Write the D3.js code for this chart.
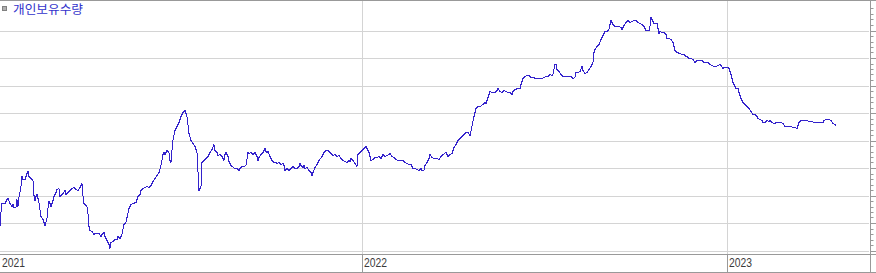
<!DOCTYPE html>
<html>
<head>
<meta charset="utf-8">
<script src="https://cdn.jsdelivr.net/npm/d3@7"></script>
<style>
  html, body { margin: 0; padding: 0; background: #fff; }
  svg { display: block; }
</style>
</head>
<body>
<svg id="chart" width="876" height="273"></svg>
<script>
// ---- DATA (개인보유수량, relative units; dates as MM-DD per year) ----
const seriesName = "개인보유수량";
const yearLabels = ["2021", "2022", "2023"];
const yearTickDates = ["2021-01-04", "2022-01-01", "2023-01-01"];
const gridValues = [0, 27.5, 55, 82.5, 110, 137.5, 165, 192.5, 220];

const holdings2021 = [
  ["01-04",24],["01-05",38],["01-06",47],["01-09",47],["01-11",51],["01-12",52],["01-14",47],["01-16",44],
  ["01-17",46],["01-18",43],["01-20",43],["01-21",51],["01-22",44],["01-23",53],["01-25",64],["01-26",74],
  ["01-27",71],["01-29",71],["01-31",77],["02-01",79],["02-02",74],["02-04",72],["02-06",70],["02-07",55],
  ["02-08",50],["02-09",54],["02-10",56],["02-12",48],["02-13",41],["02-14",34],["02-16",31],["02-17",28],
  ["02-18",25],["02-20",32],["02-21",42],["02-22",49],["02-23",47],["02-24",44],["02-26",50],["02-27",54],
  ["03-01",58],["03-02",61],["03-04",62],["03-05",54],["03-07",56],["03-08",57],["03-10",60],["03-11",56],
  ["03-13",58],["03-15",60],["03-17",62],["03-19",63],["03-21",61],["03-23",60],["03-25",63],["03-27",67],
  ["03-28",55],["03-29",47],["03-30",46],["04-01",44],["04-02",37],["04-03",24],["04-04",20],["04-06",19],
  ["04-08",16],["04-09",17],["04-13",17],["04-15",14],["04-16",16],["04-18",18],["04-19",14],["04-21",10],
  ["04-23",6],["04-24",2],["04-25",8],["04-27",9],["04-29",11],["05-01",11],["05-02",14],["05-04",12],
  ["05-06",16],["05-08",26],["05-10",28],["05-11",33],["05-13",42],["05-15",46],["05-17",47],["05-20",48],
  ["05-22",54],["05-24",56],["05-25",60],["05-27",62],["05-31",64],["06-02",63],["06-04",65],["06-06",69],
  ["06-08",72],["06-10",75],["06-12",78],["06-14",85],["06-16",96],["06-17",98],["06-18",96],["06-20",100],
  ["06-22",98],["06-23",90],["06-24",88],["06-25",100],["06-26",110],["06-28",120],["06-30",124],["07-02",128],
  ["07-04",134],["07-06",138],["07-08",140],["07-10",134],["07-12",117],["07-14",110],["07-16",107],["07-18",104],
  ["07-20",98],["07-21",79],["07-22",60],["07-23",62],["07-24",64],["07-25",88],["07-27",90],["07-29",92],
  ["07-31",94],["08-02",98],["08-04",101],["08-06",106],["08-07",100],["08-09",98],["08-10",95],["08-12",96],
  ["08-14",94],["08-16",90],["08-17",96],["08-18",98],["08-20",94],["08-21",89],["08-23",85],["08-24",84],
  ["08-27",82],["08-29",82],["08-31",80],["09-01",82],["09-03",84],["09-05",84],["09-07",85],["09-09",98],
  ["09-10",97],["09-12",98],["09-14",96],["09-16",98],["09-18",94],["09-19",90],["09-20",93],["09-22",96],
  ["09-24",98],["09-26",102],["09-27",99],["09-28",98],["09-29",99],["10-01",94],["10-03",90],["10-05",88],
  ["10-07",88],["10-08",87],["10-10",88],["10-12",86],["10-14",87],["10-15",85],["10-16",80],["10-18",82],
  ["10-20",80],["10-22",82],["10-24",84],["10-26",82],["10-28",82],["10-30",84],["10-31",87],["11-01",85],
  ["11-03",83],["11-04",85],["11-05",82],["11-07",83],["11-09",80],["11-11",78],["11-12",75],["11-13",78],
  ["11-15",83],["11-17",86],["11-19",90],["11-22",94],["11-24",98],["11-26",100],["11-28",100],["11-29",99],
  ["12-01",97],["12-03",95],["12-05",96],["12-07",94],["12-09",95],["12-11",92],["12-13",90],["12-15",89],
  ["12-17",88],["12-19",90],["12-20",89],["12-21",92],["12-23",90],["12-25",87],["12-27",84],["12-28",96],
  ["12-30",98]
];

const holdings2022 = [
  ["01-01",100],["01-03",102],["01-05",104],["01-07",100],["01-08",98],["01-10",90],["01-12",91],["01-14",93],
  ["01-16",93],["01-18",94],["01-20",92],["01-22",96],["01-24",94],["01-26",95],["01-28",96],["01-29",97],
  ["01-31",94],["02-02",93],["02-04",91],["02-06",90],["02-08",90],["02-11",90],["02-13",88],["02-15",87],
  ["02-17",86],["02-19",86],["02-21",82],["02-23",82],["02-25",81],["02-27",80],["03-01",82],["03-02",80],
  ["03-04",80],["03-05",85],["03-07",88],["03-09",92],["03-10",96],["03-12",93],["03-14",92],["03-17",92],
  ["03-19",91],["03-21",94],["03-23",96],["03-26",98],["03-28",94],["03-30",96],["04-01",97],["04-03",103],
  ["04-05",106],["04-07",110],["04-09",112],["04-11",114],["04-13",116],["04-15",118],["04-17",118],["04-19",115],
  ["04-21",124],["04-23",134],["04-25",142],["04-27",144],["04-29",144],["05-02",146],["05-04",148],["05-05",147],
  ["05-07",153],["05-09",159],["05-11",158],["05-14",158],["05-16",160],["05-17",162],["05-19",159],["05-21",158],
  ["05-23",160],["05-25",159],["05-27",158],["05-29",158],["05-31",156],["06-01",159],["06-03",161],["06-06",162],
  ["06-08",162],["06-09",166],["06-11",172],["06-13",174],["06-15",175],["06-17",175],["06-19",173],["06-21",173],
  ["06-24",172],["06-26",172],["06-28",172],["06-30",172],["07-02",173],["07-04",174],["07-06",174],["07-08",176],
  ["07-10",175],["07-11",176],["07-13",186],["07-14",186],["07-15",181],["07-17",179],["07-19",176],["07-21",174],
  ["07-24",174],["07-26",174],["07-29",174],["07-31",172],["08-02",173],["08-03",178],["08-05",178],["08-07",179],
  ["08-09",184],["08-10",180],["08-12",177],["08-14",178],["08-16",181],["08-18",184],["08-20",188],["08-21",198],
  ["08-22",201],["08-24",204],["08-26",206],["08-28",211],["08-30",215],["09-01",219],["09-03",219],["09-05",221],
  ["09-06",226],["09-07",230],["09-09",226],["09-11",224],["09-13",224],["09-15",224],["09-17",223],["09-18",221],
  ["09-20",225],["09-22",228],["09-24",230],["09-26",228],["09-28",229],["09-30",230],["10-02",230],["10-04",228],
  ["10-06",227],["10-08",226],["10-10",224],["10-12",220],["10-14",220],["10-15",220],["10-16",224],["10-17",233],
  ["10-18",231],["10-19",229],["10-20",227],["10-22",227],["10-23",227],["10-24",222],["10-25",217],["10-26",219],
  ["10-28",218],["10-30",218],["11-01",216],["11-02",212],["11-04",212],["11-06",211],["11-08",208],["11-09",204],
  ["11-10",200],["11-12",198],["11-15",197],["11-17",196],["11-19",196],["11-21",194],["11-22",194],["11-24",192],
  ["11-26",192],["11-28",191],["11-30",188],["12-02",190],["12-04",190],["12-07",190],["12-09",188],["12-11",188],
  ["12-13",188],["12-15",186],["12-17",185],["12-19",184],["12-21",184],["12-23",185],["12-25",186],["12-26",185],
  ["12-28",182],["12-29",183],["12-31",183]
];

const holdings2023 = [
  ["01-02",183],["01-03",182],["01-05",176],["01-06",172],["01-07",168],["01-09",164],["01-10",162],["01-12",162],
  ["01-13",158],["01-15",152],["01-17",148],["01-19",146],["01-21",144],["01-23",142],["01-25",139],["01-27",136],
  ["01-29",136],["01-31",134],["02-01",132],["02-03",131],["02-05",130],["02-06",128],["02-08",128],["02-10",130],
  ["02-12",129],["02-13",130],["02-15",128],["02-17",127],["02-20",128],["02-22",128],["02-24",128],["02-26",127],
  ["02-28",124],["03-02",124],["03-04",124],["03-06",124],["03-08",123],["03-10",123],["03-12",122],["03-13",125],
  ["03-14",128],["03-16",130],["03-19",130],["03-22",130],["03-24",129],["03-27",129],["03-29",128],["03-31",128],
  ["04-03",128],["04-05",128],["04-07",128],["04-08",130],["04-10",131],["04-13",131],["04-15",130],["04-17",127],
  ["04-19",126],["04-20",125]
];

// ---- BUILD ----
const parse = d3.timeParse("%Y-%m-%d");
const points = [[2021, holdings2021], [2022, holdings2022], [2023, holdings2023]]
  .flatMap(([yr, arr]) => arr.map(([md, v]) => ({ date: parse(yr + "-" + md), value: v })));

const W = 876, H = 273;
const plotRight = 870, plotBottom = 254, bandBottom = 272;

const x = d3.scaleTime()
  .domain([parse("2021-01-04"), parse("2023-05-24")])
  .range([0, plotRight]);
const y = d3.scaleLinear().domain([0, 220]).range([250.5, 30.5]);

const svg = d3.select("#chart");
const gridColor = "#d4d4d4", axisColor = "#999999";

// horizontal gridlines
svg.append("g").selectAll("line").data(gridValues).join("line")
  .attr("x1", 0).attr("x2", plotRight - 1)
  .attr("y1", d => Math.round(y(d)) + 0.5).attr("y2", d => Math.round(y(d)) + 0.5)
  .attr("stroke", gridColor).attr("stroke-width", 1);

// year gridlines in plot area
const tickDates = yearTickDates.map(parse);
svg.append("g").selectAll("line").data(tickDates.slice(1)).join("line")
  .attr("x1", d => Math.round(x(d)) + 0.5).attr("x2", d => Math.round(x(d)) + 0.5)
  .attr("y1", 0).attr("y2", plotBottom)
  .attr("stroke", gridColor).attr("stroke-width", 1);

// data line
const line = d3.line().x(d => x(d.date)).y(d => y(d.value));
svg.append("path").datum(points)
  .attr("d", line)
  .attr("fill", "none")
  .attr("stroke", "#3322cc")
  .attr("stroke-width", 1)
  .attr("shape-rendering", "crispEdges")
  .attr("stroke-linejoin", "round");

// bottom axis (year band)
const xAxis = d3.axisBottom(x).tickValues(tickDates).tickSize(bandBottom - plotBottom)
  .tickSizeOuter(0).tickFormat((d, i) => yearLabels[i]);
const gx = svg.append("g").attr("transform", `translate(0,${plotBottom + 0.5})`).call(xAxis);
gx.select(".domain").remove();
gx.selectAll(".tick").attr("transform", d => `translate(${Math.round(x(d)) + 0.5},0)`);
gx.selectAll(".tick line").attr("stroke", axisColor);
gx.selectAll(".tick text")
  .attr("x", 1.5).attr("y", 12.5).attr("dy", null)
  .attr("text-anchor", "start")
  .attr("fill", "#3a3a3a")
  .style("font-family", "'Liberation Sans Narrow', 'Liberation Sans', Arial, sans-serif")
  .style("font-size", "13px")
  .attr("textLength", 23).attr("lengthAdjust", "spacingAndGlyphs");
gx.selectAll(".tick").filter((d, i) => i === 0).select("line").remove();

// frame lines
const frame = svg.append("g").attr("stroke", axisColor).attr("stroke-width", 1);
frame.append("line").attr("x1", 0).attr("x2", W).attr("y1", 0.5).attr("y2", 0.5);
frame.append("line").attr("x1", 0).attr("x2", W).attr("y1", plotBottom + 0.5).attr("y2", plotBottom + 0.5);
frame.append("line").attr("x1", 0).attr("x2", W).attr("y1", bandBottom + 0.5).attr("y2", bandBottom + 0.5);
frame.append("line").attr("x1", plotRight + 0.5).attr("x2", plotRight + 0.5).attr("y1", 0).attr("y2", H);

// right axis ticks (major + minor)
const yAxisMajor = d3.axisRight(y).tickValues(gridValues).tickSize(6).tickSizeOuter(0).tickFormat("");
const gy = svg.append("g").attr("transform", `translate(${plotRight + 0.5},0)`).call(yAxisMajor);
gy.select(".domain").remove();
gy.selectAll(".tick").attr("transform", d => `translate(0,${Math.round(y(d)) + 0.5})`);
gy.selectAll(".tick line").attr("stroke", axisColor);

const minorValues = d3.range(0, 247.5, 5.5).filter(v => Math.abs(v / 27.5 - Math.round(v / 27.5)) > 1e-6);
const yAxisMinor = d3.axisRight(y).tickValues(minorValues).tickSize(3).tickSizeOuter(0).tickFormat("");
const gm = svg.append("g").attr("transform", `translate(${plotRight + 0.5},0)`).call(yAxisMinor);
gm.select(".domain").remove();
gm.selectAll(".tick").attr("transform", d => `translate(0,${Math.round(y(d)) + 0.5})`);
gm.selectAll(".tick line").attr("stroke", axisColor);

// legend
svg.append("rect").attr("x", 2.5).attr("y", 6.5).attr("width", 4).attr("height", 4)
  .attr("fill", "#b0b0b0").attr("stroke", "#808080").attr("stroke-width", 1);
svg.append("text").attr("x", 13).attr("y", 13.5)
  .attr("fill", "#3333cc")
  .style("font-family", "'Noto Sans CJK KR', 'Noto Sans', sans-serif")
  .style("font-size", "12px")
  .attr("textLength", 70).attr("lengthAdjust", "spacingAndGlyphs")
  .text(seriesName);
</script>
</body>
</html>
